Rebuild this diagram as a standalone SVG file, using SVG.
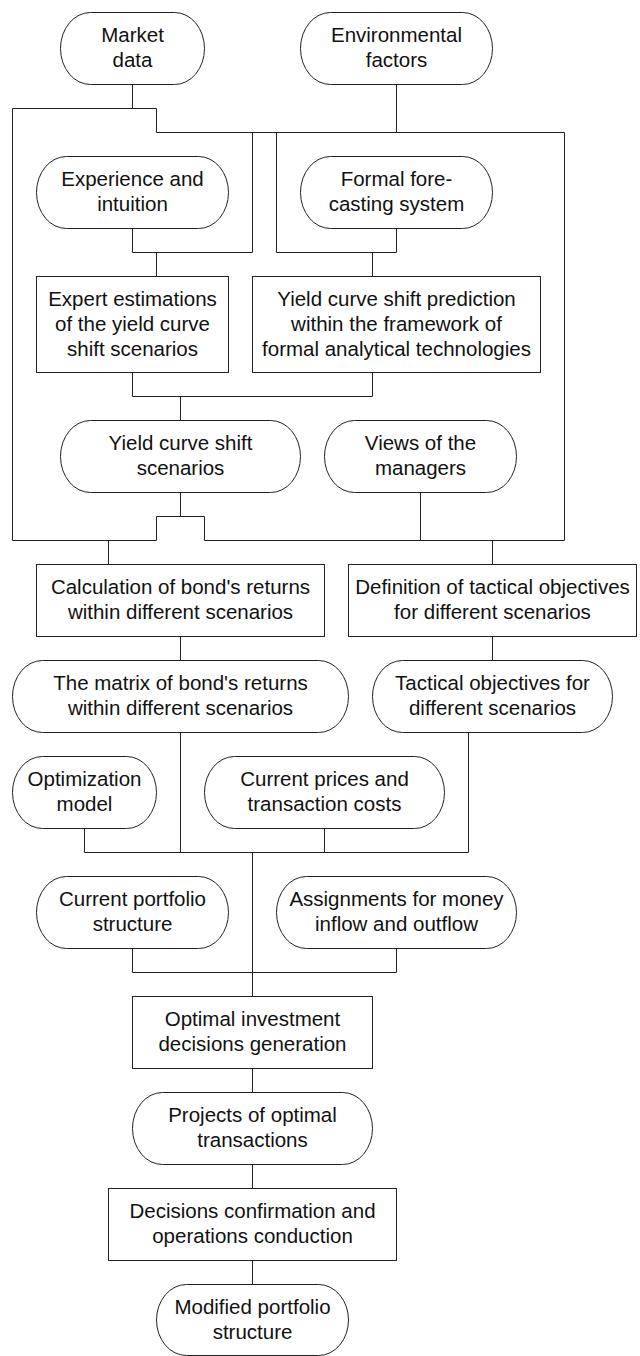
<svg xmlns="http://www.w3.org/2000/svg" width="640" height="1356" viewBox="0 0 640 1356">
<style>
.n{fill:#fff;stroke:#222;stroke-width:1}
.c{fill:none;stroke:#222;stroke-width:1}
text{font-family:"Liberation Sans",Arial,sans-serif;font-size:20.5px;fill:#111;text-anchor:middle}
</style>
<rect width="640" height="1356" fill="#fff"/>
<g transform="translate(0.5,0.5)">
<g id="connectors" class="c">
<path d="M132 84V108M12 108H156V132H564V540M12 108V540"/>
<path d="M396 84V132"/>
<path d="M252 132V252M276 132V252"/>
<path d="M132 228V252H252M156 252V276"/>
<path d="M396 228V252H276M372 252V276"/>
<path d="M132 372V396H372V372M180 396V420"/>
<path d="M180 492V516M156 540V516H204V540"/>
<path d="M12 540H156M204 540H564"/>
<path d="M420 492V540"/>
<path d="M108 540V564M492 540V564"/>
<path d="M180 636V660M492 636V660"/>
<path d="M180 732V852M468 732V852M84 828V852M324 828V852M84 852H468M252 852V996"/>
<path d="M132 948V972H396V948"/>
<path d="M252 1068V1092M252 1164V1188M252 1260V1284"/>
</g>
<g id="market"><rect class="n" x="60" y="12" width="144" height="72" rx="30" ry="36"/><text x="132" y="41">Market</text><text x="132" y="66">data</text></g>
<g id="environmental"><rect class="n" x="300" y="12" width="192" height="72" rx="30" ry="36"/><text x="396" y="41">Environmental</text><text x="396" y="66">factors</text></g>
<g id="experience"><rect class="n" x="36" y="156" width="192" height="72" rx="30" ry="36"/><text x="132" y="185">Experience and</text><text x="132" y="210">intuition</text></g>
<g id="formal"><rect class="n" x="300" y="156" width="192" height="72" rx="30" ry="36"/><text x="396" y="185">Formal fore-</text><text x="396" y="210">casting system</text></g>
<g id="expert"><rect class="n" x="36" y="276" width="192" height="96"/><text x="132" y="305">Expert estimations</text><text x="132" y="330">of the yield curve</text><text x="132" y="355">shift scenarios</text></g>
<g id="prediction"><rect class="n" x="252" y="276" width="288" height="96"/><text x="396" y="305">Yield curve shift prediction</text><text x="396" y="330">within the framework of</text><text x="396" y="355">formal analytical technologies</text></g>
<g id="scenarios"><rect class="n" x="60" y="420" width="240" height="72" rx="30" ry="36"/><text x="180" y="449">Yield curve shift</text><text x="180" y="474">scenarios</text></g>
<g id="views"><rect class="n" x="324" y="420" width="192" height="72" rx="30" ry="36"/><text x="420" y="449">Views of the</text><text x="420" y="474">managers</text></g>
<g id="calculation"><rect class="n" x="36" y="564" width="288" height="72"/><text x="180" y="593">Calculation of bond's returns</text><text x="180" y="618">within different scenarios</text></g>
<g id="definition"><rect class="n" x="348" y="564" width="288" height="72"/><text x="492" y="593">Definition of tactical objectives</text><text x="492" y="618">for different scenarios</text></g>
<g id="matrix"><rect class="n" x="12" y="660" width="336" height="72" rx="30" ry="36"/><text x="180" y="689">The matrix of bond's returns</text><text x="180" y="714">within different scenarios</text></g>
<g id="tactical"><rect class="n" x="372" y="660" width="240" height="72" rx="30" ry="36"/><text x="492" y="689">Tactical objectives for</text><text x="492" y="714">different scenarios</text></g>
<g id="optimization"><rect class="n" x="12" y="756" width="144" height="72" rx="30" ry="36"/><text x="84" y="785">Optimization</text><text x="84" y="810">model</text></g>
<g id="prices"><rect class="n" x="204" y="756" width="240" height="72" rx="30" ry="36"/><text x="324" y="785">Current prices and</text><text x="324" y="810">transaction costs</text></g>
<g id="portfolio"><rect class="n" x="36" y="876" width="192" height="72" rx="30" ry="36"/><text x="132" y="905">Current portfolio</text><text x="132" y="930">structure</text></g>
<g id="assignments"><rect class="n" x="276" y="876" width="240" height="72" rx="30" ry="36"/><text x="396" y="905">Assignments for money</text><text x="396" y="930">inflow and outflow</text></g>
<g id="optimal"><rect class="n" x="132" y="996" width="240" height="72"/><text x="252" y="1025">Optimal investment</text><text x="252" y="1050">decisions generation</text></g>
<g id="projects"><rect class="n" x="132" y="1092" width="240" height="72" rx="30" ry="36"/><text x="252" y="1121">Projects of optimal</text><text x="252" y="1146">transactions</text></g>
<g id="decisions"><rect class="n" x="108" y="1188" width="288" height="72"/><text x="252" y="1217">Decisions confirmation and</text><text x="252" y="1242">operations conduction</text></g>
<g id="modified"><rect class="n" x="156" y="1284" width="192" height="71" rx="30" ry="35.5"/><text x="252" y="1313">Modified portfolio</text><text x="252" y="1338">structure</text></g>
</g>
</svg>
